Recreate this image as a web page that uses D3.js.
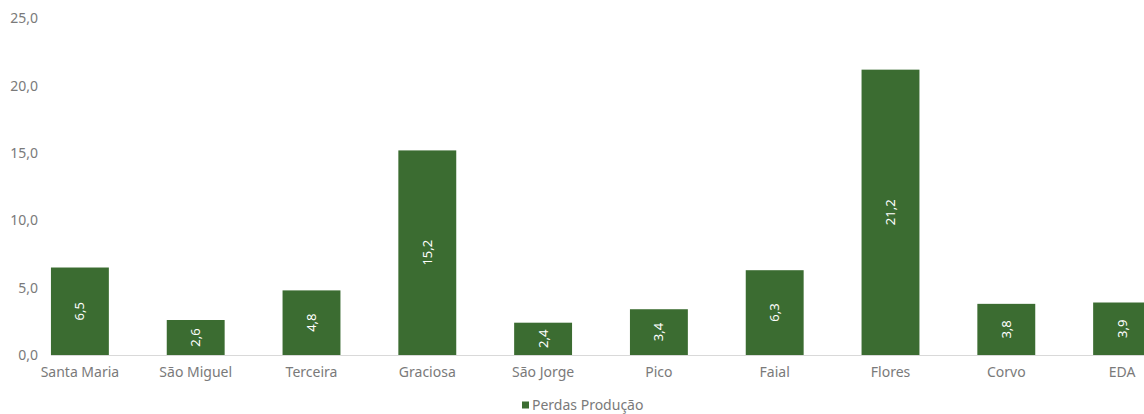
<!DOCTYPE html>
<html>
<head>
<meta charset="utf-8">
<script src="https://cdn.jsdelivr.net/npm/d3@7"></script>
<style>
  body { margin: 0; background: #fff; }
  #chart { width: 1144px; height: 414px; overflow: hidden; }
  text { font-family: "Noto Sans", sans-serif; }
</style>
</head>
<body>
<div id="chart"></div>
<script>
let categories = ['Santa Maria', 'São Miguel', 'Terceira', 'Graciosa', 'São Jorge', 'Pico', 'Faial', 'Flores', 'Corvo', 'EDA']
let perdas = [6.5, 2.6, 4.8, 15.2, 2.4, 3.4, 6.3, 21.2, 3.8, 3.9]
let yTicks = [0, 5, 10, 15, 20, 25]
let seriesName = 'Perdas Produção'

let width = 1144
let height = 414
let barColor = '#3b6c31'
let textColor = '#7a7a7a'
let fmt = v => d3.format('.1f')(v).replace('.', ',')

let svg = d3.select('#chart')
  .append('svg')
    .attr('width', width)
    .attr('height', height)

let xScale = d3.scaleBand()
  .domain(categories)
  .range([22, 1180])
  .paddingInner(0.5)
  .paddingOuter(0.25)

let yScale = d3.scaleLinear()
  .domain([0, 25])
  .range([355, 18.5])

// Y axis labels (no line, no ticks)
let yAxis = svg.append('g')
  .attr('transform', 'translate(38, 0)')
  .call(d3.axisLeft(yScale).tickValues(yTicks).tickFormat(fmt).tickSize(0).tickPadding(0))
yAxis.select('.domain').remove()
yAxis.selectAll('text')
  .attr('fill', textColor)
  .style('font-size', '14px')

// Bars
svg.selectAll('.bar')
  .data(perdas)
  .enter()
  .append('rect')
    .attr('class', 'bar')
    .attr('x', (d, i) => xScale(categories[i]))
    .attr('y', d => yScale(d))
    .attr('width', xScale.bandwidth())
    .attr('height', d => yScale(0) - yScale(d))
    .attr('fill', barColor)

// Baseline
svg.append('line')
  .attr('x1', xScale(categories[0]))
  .attr('x2', width)
  .attr('y1', yScale(0) + 0.5)
  .attr('y2', yScale(0) + 0.5)
  .attr('stroke', '#d9d9d9')
  .attr('stroke-width', 1)

// Category labels
let xAxis = svg.append('g')
  .attr('transform', `translate(0, ${yScale(0)})`)
  .call(d3.axisBottom(xScale).tickSize(0).tickPadding(12))
xAxis.select('.domain').remove()
xAxis.selectAll('text')
  .attr('fill', textColor)
  .style('font-size', '14px')

// Value labels inside bars, rotated
svg.selectAll('.value')
  .data(perdas)
  .enter()
  .append('text')
    .attr('class', 'value')
    .attr('transform', (d, i) => {
      let cx = xScale(categories[i]) + xScale.bandwidth() / 2
      let cy = (yScale(d) + yScale(0)) / 2
      return `translate(${cx}, ${cy}) rotate(-90)`
    })
    .attr('text-anchor', 'middle')
    .attr('dy', '0.35em')
    .attr('fill', '#fff')
    .style('font-size', '13px')
    .text(d => fmt(d))

// Legend
let legend = svg.append('g').attr('transform', 'translate(522, 405)')
legend.append('rect')
  .attr('x', 0)
  .attr('y', -3.5)
  .attr('width', 7)
  .attr('height', 7)
  .attr('fill', barColor)
legend.append('text')
  .attr('x', 10)
  .attr('dy', '0.35em')
  .attr('fill', textColor)
  .style('font-size', '14px')
  .text(seriesName)
</script>
</body>
</html>
